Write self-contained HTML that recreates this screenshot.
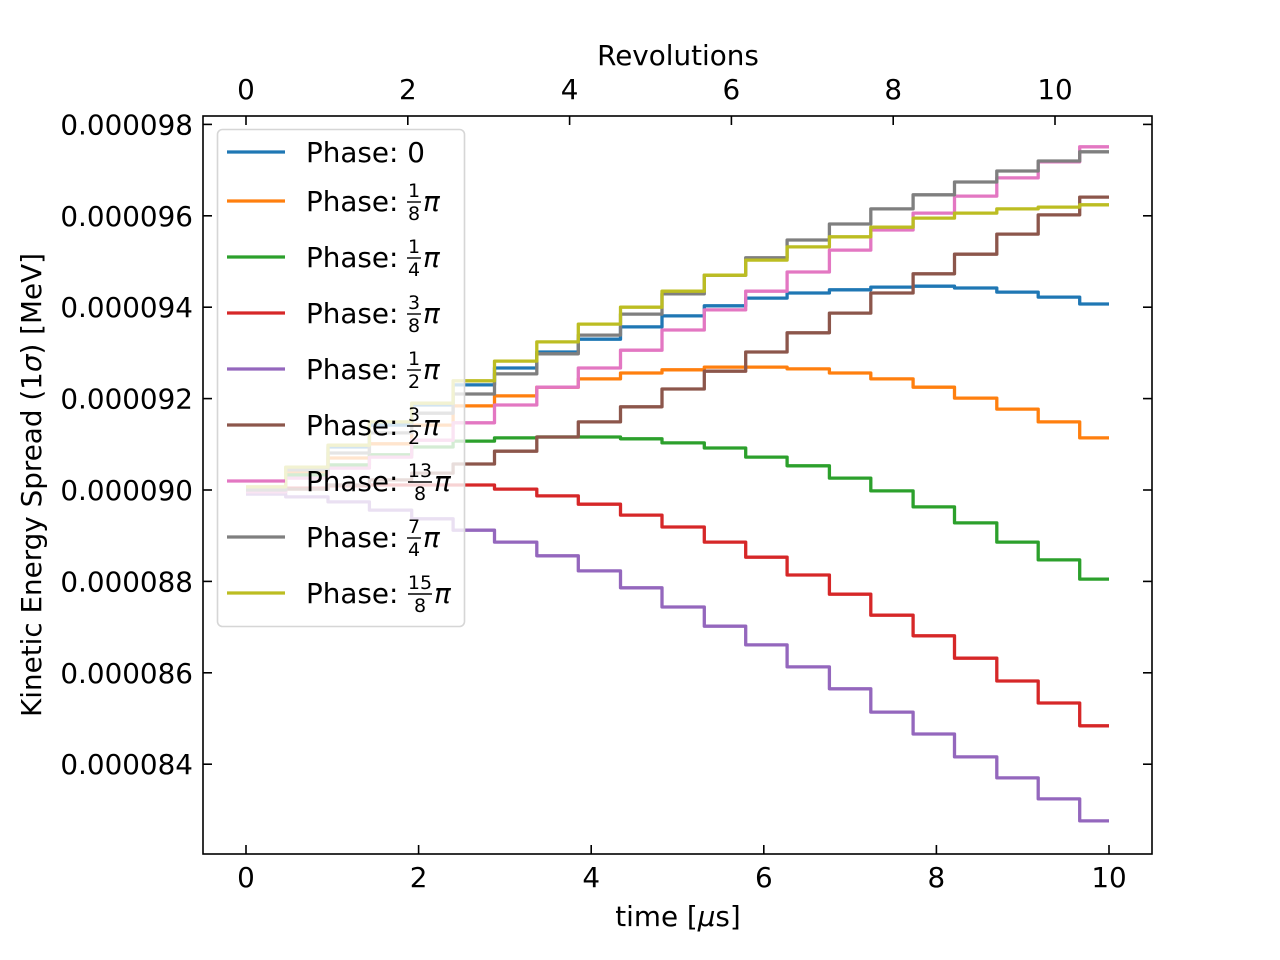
<!DOCTYPE html>
<html><head><meta charset="utf-8"><style>
html,body{margin:0;padding:0;background:#fff;}
svg{display:block;font-family:"DejaVu Sans","Liberation Sans",sans-serif;}
</style></head><body>
<svg id="chart" width="1280" height="960" viewBox="0 0 1280 960" xmlns="http://www.w3.org/2000/svg">
<rect width="1280" height="960" fill="#fff"/>
<g id="lines"></g>
<g id="axes"></g>
<g id="legend"></g>
</svg>
<script>
// step boundaries (µs)
const stepTimes = [0.46,0.95,1.43,1.92,2.40,2.88,3.37,3.85,4.34,4.82,5.31,5.79,6.27,6.76,7.24,7.73,8.21,8.70,9.18,9.66];
const tEnd = 10;
// values in units of 1e-6 MeV, one per segment
const phase0    = [90.02,90.48,90.94,91.42,91.86,92.30,92.67,93.02,93.30,93.57,93.81,94.03,94.20,94.31,94.38,94.44,94.46,94.42,94.33,94.22,94.07];
const phase1_8  = [90.00,90.39,90.70,91.01,91.42,91.84,92.06,92.25,92.43,92.56,92.63,92.69,92.69,92.65,92.56,92.43,92.25,92.01,91.77,91.49,91.14];
const phase1_4  = [90.00,90.33,90.55,90.77,90.94,91.07,91.14,91.16,91.16,91.12,91.03,90.92,90.72,90.53,90.26,89.98,89.63,89.28,88.86,88.47,88.05];
const phase3_8  = [89.96,90.04,90.09,90.11,90.11,90.11,90.02,89.87,89.69,89.45,89.19,88.86,88.53,88.14,87.72,87.26,86.81,86.32,85.82,85.34,84.84];
const phase1_2  = [89.91,89.85,89.74,89.56,89.37,89.12,88.86,88.56,88.23,87.86,87.44,87.02,86.61,86.13,85.65,85.14,84.66,84.16,83.70,83.24,82.76];
const phase3_2  = [89.96,90.02,90.11,90.22,90.37,90.57,90.85,91.16,91.49,91.82,92.21,92.60,93.02,93.44,93.87,94.31,94.73,95.16,95.60,96.02,96.41];
const phase13_8 = [89.96,90.26,90.48,90.72,91.09,91.47,91.86,92.25,92.67,93.06,93.50,93.94,94.35,94.77,95.25,95.69,96.06,96.43,96.83,97.18,97.51];
const phase7_4  = [90.00,90.44,90.81,91.25,91.68,92.10,92.54,92.98,93.39,93.85,94.29,94.70,95.08,95.47,95.82,96.15,96.46,96.74,96.98,97.20,97.40];
const phase15_8 = [90.07,90.50,90.98,91.49,91.90,92.39,92.82,93.24,93.63,94.00,94.35,94.70,95.03,95.32,95.54,95.75,95.95,96.06,96.15,96.19,96.24];
const xTicks = [0,2,4,6,8,10];
const revTicks = [0,2,4,6,8,10];
const yTicks = [84,86,88,90,92,94,96,98];
const yTickLabels = ["0.000084","0.000086","0.000088","0.000090","0.000092","0.000094","0.000096","0.000098"];

const NS = "http://www.w3.org/2000/svg";
const L=203,R=1152,T=116,B=854;
const FS=27.8;
function sx(t){return 246 + t*86.3;}
function sy(v){return 490 - (v-90)*45.7;}
function rx(r){return 246 + r*80.9;}
function mk(tag,attrs,parent){const e=document.createElementNS(NS,tag);for(const k in attrs)e.setAttribute(k,attrs[k]);parent.appendChild(e);return e;}

const series = [
 {name:"phase-0",vals:phase0,color:"#1f77b4",num:null,den:null},
 {name:"phase-1-8",vals:phase1_8,color:"#ff7f0e",num:"1",den:"8"},
 {name:"phase-1-4",vals:phase1_4,color:"#2ca02c",num:"1",den:"4"},
 {name:"phase-3-8",vals:phase3_8,color:"#d62728",num:"3",den:"8"},
 {name:"phase-1-2",vals:phase1_2,color:"#9467bd",num:"1",den:"2"},
 {name:"phase-3-2",vals:phase3_2,color:"#8c564b",num:"3",den:"2"},
 {name:"phase-13-8",vals:phase13_8,color:"#e377c2",num:"13",den:"8"},
 {name:"phase-7-4",vals:phase7_4,color:"#7f7f7f",num:"7",den:"4"},
 {name:"phase-15-8",vals:phase15_8,color:"#bcbd22",num:"15",den:"8"}
];

const gl=document.getElementById('lines');
series.forEach(s=>{
  const bounds=[0].concat(stepTimes,[tEnd]);
  let d="";
  for(let i=0;i<s.vals.length;i++){
    const y=sy(s.vals[i]);
    d += (i===0?"M":"L")+sx(bounds[i]).toFixed(1)+","+y.toFixed(1)+"L"+sx(bounds[i+1]).toFixed(1)+","+y.toFixed(1);
  }
  const p=mk('path',{d:d,fill:"none",stroke:s.color,"stroke-width":3.3,"stroke-linejoin":"round"},gl);
  
  
});

const ga=document.getElementById('axes');
const frame=mk('rect',{x:L,y:T,width:R-L,height:B-T,fill:"none",stroke:"#000","stroke-width":1.6},ga);


xTicks.forEach(t=>{
  const x=sx(t);
  mk('line',{x1:x,y1:B,x2:x,y2:B-9,stroke:"#000","stroke-width":1.6},ga);
  const tx=mk('text',{x:x,y:887,"font-size":FS,"text-anchor":"middle"},ga);
  tx.textContent=t;
  
  
});
revTicks.forEach(r=>{
  const x=rx(r);
  mk('line',{x1:x,y1:T,x2:x,y2:T+9,stroke:"#000","stroke-width":1.6},ga);
  const tx=mk('text',{x:x,y:99,"font-size":FS,"text-anchor":"middle"},ga);
  tx.textContent=r;
  
  
});
yTicks.forEach((v,i)=>{
  const y=sy(v);
  mk('line',{x1:L,y1:y,x2:L+9,y2:y,stroke:"#000","stroke-width":1.6},ga);
  mk('line',{x1:R,y1:y,x2:R-9,y2:y,stroke:"#000","stroke-width":1.6},ga);
  const tx=mk('text',{x:193,y:y+10,"font-size":FS,"text-anchor":"end"},ga);
  tx.textContent=yTickLabels[i];
  
  
});
let t1=mk('text',{x:678,y:926,"font-size":FS,"text-anchor":"middle"},ga);
t1.innerHTML='time [<tspan font-style="italic">μ</tspan>s]';


let t2=mk('text',{x:678,y:65,"font-size":FS,"text-anchor":"middle"},ga);
t2.textContent='Revolutions';


let t3=mk('text',{x:0,y:0,"font-size":FS,"text-anchor":"middle",transform:"translate(41,485) rotate(-90)"},ga);
t3.innerHTML='Kinetic Energy Spread (1<tspan font-style="italic">σ</tspan>) [MeV]';



const lg=document.getElementById('legend');
const box=mk('rect',{x:217.5,y:129.5,width:247,height:497,rx:5,fill:"#fff","fill-opacity":0.8,stroke:"#d6d6d6","stroke-width":1.6},lg);


series.forEach((s,i)=>{
  const y=[152,201,257,313,369,425,481,537,593][i];
  const g=mk('g',{},lg);
  
  
  mk('line',{x1:227,y1:y,x2:285,y2:y,stroke:s.color,"stroke-width":3.3},g);
  const tx=mk('text',{x:306,y:y+10,"font-size":FS},g);
  tx.textContent= s.num===null ? 'Phase: 0' : 'Phase:';
  if(s.num!==null){
    const fx = s.num.length>1 ? 420 : 414;
    const w = s.num.length>1 ? 22 : 12;
    const n=mk('text',{x:fx,y:y-4,"font-size":"19","text-anchor":"middle"},g); n.textContent=s.num;
    mk('line',{x1:fx-w/2-1,y1:y+1,x2:fx+w/2+1,y2:y+1,stroke:"#000","stroke-width":1.4},g);
    const dn=mk('text',{x:fx,y:y+19,"font-size":"19","text-anchor":"middle"},g); dn.textContent=s.den;
    const pi=mk('text',{x:fx+w/2+3,y:y+10,"font-size":FS,"font-style":"italic"},g); pi.textContent='π';
  }
});
</script>
</body></html>
